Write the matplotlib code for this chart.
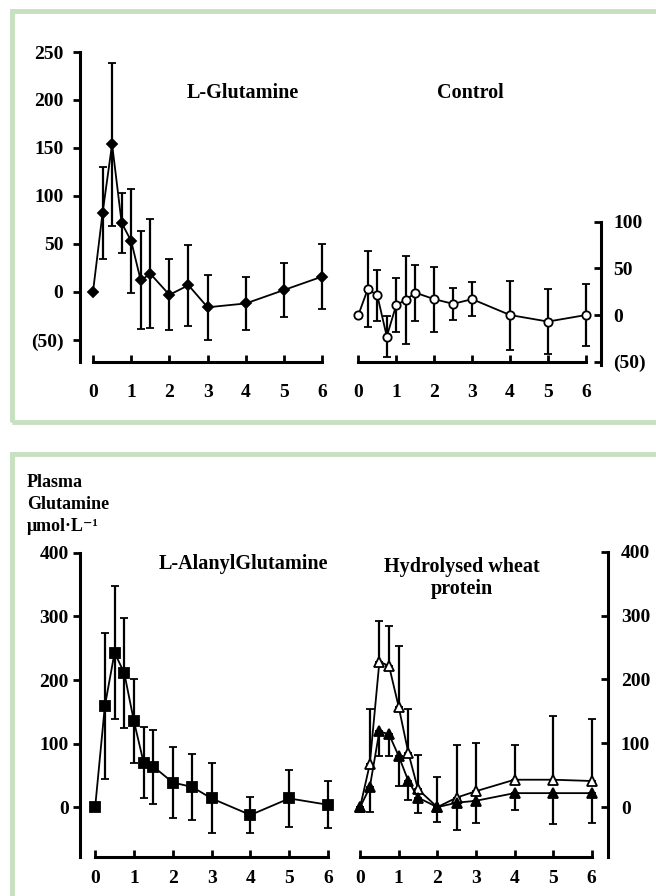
import matplotlib
matplotlib.use("Agg")
import matplotlib.pyplot as plt
from matplotlib.patches import Rectangle

plt.rcParams["font.family"] = ["Liberation Serif", "DejaVu Serif"]
plt.rcParams["font.weight"] = "bold"

W, H = 656, 896

# sampling times (h)
TIMES = [0, 0.25, 0.5, 0.75, 1, 1.25, 1.5, 2, 2.5, 3, 4, 5, 6]

# L-Glutamine (change from baseline)
GLUT_MEAN = [0, 82, 154, 72, 53, 12, 19, -3, 7, -16, -12, 2, 16]
GLUT_SD = [0, 48, 85, 31, 54, 51, 57, 37, 42, 34, 28, 28, 34]

# Control
CTRL_MEAN = [0, 28, 21, -23, 11, 16, 24, 17, 12, 17, 0, -7, 0]
CTRL_SD = [0, 41, 27, 22, 29, 47, 30, 35, 17, 18, 37, 35, 33]

# L-AlanylGlutamine
ALA_MEAN = [0, 159, 243, 211, 135, 70, 64, 39, 32, 14, -12, 14, 4]
ALA_SD = [0, 115, 105, 87, 66, 56, 58, 56, 52, 55, 28, 45, 37]

# Hydrolysed wheat protein: open triangles (upper SD), filled triangles (lower SD)
WHEAT_OPEN = [0, 67, 228, 221, 157, 85, 28, 0, 15, 25, 43, 43, 41]
WHEAT_OPEN_UP = [0, 87, 64, 63, 96, 68, 53, 47, 83, 75, 54, 99, 97]
WHEAT_FILL = [0, 31, 119, 114, 80, 41, 15, 0, 7, 10, 22, 22, 22]
WHEAT_FILL_LO = [0, 39, 39, 34, 47, 29, 24, 23, 43, 34, 26, 49, 46]

X_TICKS = [0, 1, 2, 3, 4, 5, 6]
TOP_YTICKS = [-50, 0, 50, 100, 150, 200, 250]
CTRL_YTICKS = [-50, 0, 50, 100]
BOT_YTICKS = [0, 100, 200, 300, 400]

GREEN = "#c7e0bf"
FS = 14
TITLE_FS = 14.5


def px_axes(fig, left, top, right, bottom):
    return fig.add_axes([left / W, 1 - bottom / H, (right - left) / W, (bottom - top) / H])


def neg_label(v):
    return f"({abs(v)})" if v < 0 else f"{v}"


def style(ax, side, xpad, ypad):
    for s in ["top", "left", "right"]:
        ax.spines[s].set_visible(False)
    ax.spines[side].set_visible(True)
    for s in ["bottom", side]:
        ax.spines[s].set_linewidth(2.2)
    ax.spines["bottom"].set_bounds(0, 6)
    ax.set_xticks(X_TICKS)
    ax.set_xticklabels([str(t) for t in X_TICKS])
    ax.tick_params(axis="x", direction="in", length=5, width=2, pad=xpad, labelsize=FS)
    if side == "left":
        ax.yaxis.set_ticks_position("left")
        ax.tick_params(axis="y", direction="out", length=5, width=2, pad=ypad, labelsize=FS)
    else:
        ax.yaxis.set_ticks_position("right")
        ax.tick_params(axis="y", direction="in", length=5, width=2, pad=ypad, labelsize=FS)
    ax.patch.set_alpha(0)


def series(ax, y, yerr, marker, fc, ms):
    ax.errorbar(TIMES, y, yerr=yerr, color="black", lw=1.3, elinewidth=1.6,
                capsize=3, capthick=1.6, marker=marker, ms=ms, mfc=fc,
                mec="black", mew=1.3, clip_on=False)


fig = plt.figure(figsize=(W / 100, H / 100), dpi=100)

# green frames
fig.patches.append(Rectangle((11.5 / W, 1 - 422 / H), 700 / W, (422 - 11) / H,
                             transform=fig.transFigure, fill=False,
                             edgecolor=GREEN, lw=3.5, zorder=0))
fig.patches.append(Rectangle((11.5 / W, -0.1), 700 / W, 0.1 + 1 - 454 / H,
                             transform=fig.transFigure, fill=False,
                             edgecolor=GREEN, lw=3.5, zorder=0))

# top-left: L-Glutamine
ax1 = px_axes(fig, 80, 52, 326, 362)
ax1.set_xlim(-0.34, 6.1)
ax1.set_ylim(-73, 250)
style(ax1, "left", 16, 7)
ax1.set_yticks(TOP_YTICKS)
ax1.set_yticklabels([neg_label(v) for v in TOP_YTICKS])
series(ax1, GLUT_MEAN, GLUT_SD, "D", "black", 5.5)

# top-right: Control
ax2 = px_axes(fig, 350, 221.7, 600.7, 361.7)
ax2.set_xlim(-0.22, 6.39)
ax2.set_ylim(-47, 100)
style(ax2, "right", 16, 9)
ax2.spines["right"].set_bounds(-53, 100)
ax2.set_yticks(CTRL_YTICKS)
ax2.set_yticklabels([neg_label(v) for v in CTRL_YTICKS])
series(ax2, CTRL_MEAN, CTRL_SD, "o", "white", 6)

# bottom-left: L-AlanylGlutamine
ax3 = px_axes(fig, 80, 552.7, 332, 857)
ax3.set_xlim(-0.39, 6.1)
ax3.set_ylim(-78, 400)
style(ax3, "left", 9, 3)
ax3.set_yticks(BOT_YTICKS)
series(ax3, ALA_MEAN, ALA_SD, "s", "black", 7.5)

# bottom-right: Hydrolysed wheat protein
ax4 = px_axes(fig, 352, 551.7, 608.3, 857)
ax4.set_xlim(-0.21, 6.43)
ax4.set_ylim(-78, 400)
style(ax4, "right", 9, 9)
ax4.set_yticks(BOT_YTICKS)
zeros = [0] * len(TIMES)
series(ax4, WHEAT_OPEN, [zeros, WHEAT_OPEN_UP], "^", "white", 7)
series(ax4, WHEAT_FILL, [WHEAT_FILL_LO, zeros], "^", "black", 7)


def ftext(x, y, s, fs=TITLE_FS, **kw):
    fig.text(x / W, 1 - y / H, s, fontsize=fs, fontweight="bold", **kw)


ftext(243, 93, "L-Glutamine", ha="center", va="center")
ftext(470, 93, "Control", ha="center", va="center")
ftext(243, 564, "L-AlanylGlutamine", ha="center", va="center")
ftext(462, 578, "Hydrolysed wheat\nprotein", ha="center", va="center", linespacing=1.1)
ftext(27, 474, "Plasma\nGlutamine\n\u03bcmol\u00b7L\u207b\u00b9", fs=13, ha="left", va="top",
      linespacing=1.4)

fig.savefig("out.png", dpi=100)
